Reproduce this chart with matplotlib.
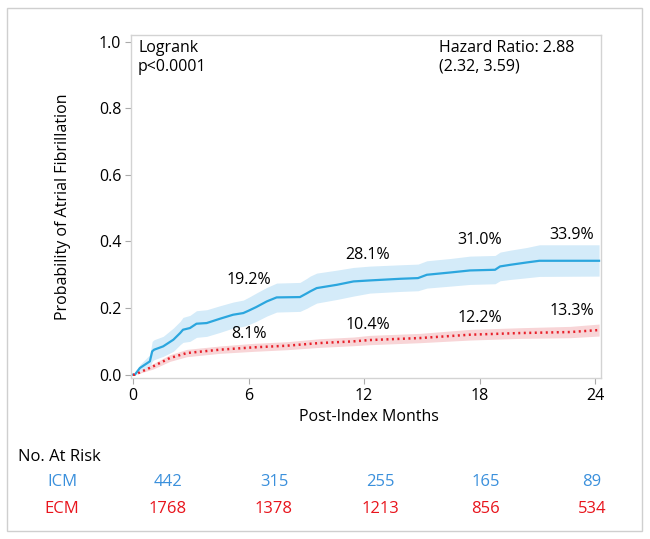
import matplotlib
matplotlib.use('Agg')
import matplotlib.pyplot as plt
from matplotlib.patches import Rectangle

plt.rcParams['font.family'] = ['Open Sans', 'DejaVu Sans']

# ICM curve
icm_t = [0, 0.1, 0.36, 0.62, 0.88, 1.0, 1.1, 1.57, 2.1, 2.45, 2.6, 2.96, 3.3, 3.83,
         4.52, 5.2, 5.73, 6.0, 6.4, 6.95, 7.46, 8.67, 9.05, 9.2, 9.54, 10.6, 11.45, 12.3,
         13.9, 14.8, 15.26, 16.5, 17.5, 18.8, 19.06, 19.6, 20.45, 21.1, 24.2]
icm_s = [0, 0, 0.02, 0.03, 0.04, 0.07, 0.075, 0.085, 0.105, 0.125, 0.135, 0.14, 0.153, 0.155,
         0.168, 0.18, 0.185, 0.192, 0.203, 0.22, 0.232, 0.233, 0.245, 0.25, 0.26, 0.27, 0.28, 0.283,
         0.288, 0.29, 0.30, 0.307, 0.313, 0.315, 0.325, 0.33, 0.337, 0.342, 0.342]
icm_lo = [0, 0, 0.01, 0.015, 0.02, 0.04, 0.045, 0.055, 0.07, 0.09, 0.097, 0.10, 0.112, 0.115,
          0.127, 0.14, 0.145, 0.15, 0.16, 0.176, 0.188, 0.19, 0.2, 0.205, 0.215, 0.226, 0.236, 0.245,
          0.25, 0.252, 0.26, 0.266, 0.271, 0.273, 0.282, 0.286, 0.291, 0.295, 0.296]
icm_hi = [0, 0, 0.03, 0.045, 0.06, 0.10, 0.105, 0.115, 0.14, 0.16, 0.172, 0.178, 0.192, 0.195,
          0.207, 0.218, 0.224, 0.232, 0.245, 0.262, 0.275, 0.277, 0.29, 0.296, 0.305, 0.314, 0.322, 0.326,
          0.33, 0.332, 0.342, 0.349, 0.356, 0.358, 0.368, 0.374, 0.382, 0.39, 0.39]

# ECM curve
ecm_t = [0, 0.1, 1.05, 1.92, 2.8, 3.65, 4.5, 6.25, 8.0, 9.7, 11.45, 12.3, 14.9, 17.5, 20.1, 22.7, 24.2]
ecm_s = [0, 0, 0.025, 0.05, 0.065, 0.07, 0.075, 0.082, 0.087, 0.095, 0.10, 0.104, 0.11, 0.12,
         0.125, 0.128, 0.134]
ecm_lo = [0, 0, 0.017, 0.04, 0.054, 0.059, 0.064, 0.07, 0.075, 0.082, 0.087, 0.09, 0.096, 0.104,
          0.109, 0.111, 0.116]
ecm_hi = [0, 0, 0.033, 0.06, 0.076, 0.081, 0.086, 0.094, 0.099, 0.108, 0.113, 0.118, 0.124, 0.136,
          0.141, 0.145, 0.152]

# percentage labels
lbl_x = [6.0, 12.2, 18.0, 22.8]
icm_lbl_y = [0.284, 0.36, 0.404, 0.42]
icm_lbl = ['19.2%', '28.1%', '31.0%', '33.9%']
ecm_lbl_y = [0.122, 0.149, 0.17, 0.19]
ecm_lbl = ['8.1%', '10.4%', '12.2%', '13.3%']

# numbers at risk
risk_icm = [442, 315, 255, 165, 89]
risk_ecm = [1768, 1378, 1213, 856, 534]

blue = '#2ba6de'
blue_band = '#d4ebf9'
red = '#e8202a'
red_band = '#f8d5d7'
frame = '#d3d3d3'
fs = 11.5

fig = plt.figure(figsize=(6.5, 5.39), dpi=100)
ax = fig.add_axes([131 / 650, 1 - 378 / 539, 470 / 650, 343 / 539])

ax.fill_between(icm_t, icm_lo, icm_hi, color=blue_band, lw=0)
ax.fill_between(ecm_t, ecm_lo, ecm_hi, color=red_band, lw=0)
ax.plot(icm_t, icm_s, color=blue, lw=1.6)
ax.plot(ecm_t, ecm_s, color=red, lw=1.8, linestyle=(0, (0.8, 1.4)))

for x, y, s in zip(lbl_x, icm_lbl_y, icm_lbl):
    ax.text(x, y, s, ha='center', va='center', fontsize=fs)
for x, y, s in zip(lbl_x, ecm_lbl_y, ecm_lbl):
    ax.text(x, y, s, ha='center', va='center', fontsize=fs)

ax.text(0.015, 0.985, 'Logrank\np<0.0001', transform=ax.transAxes, ha='left', va='top',
        fontsize=fs, linespacing=1.2)
ax.text(0.655, 0.985, 'Hazard Ratio: 2.88\n(2.32, 3.59)', transform=ax.transAxes, ha='left',
        va='top', fontsize=fs, linespacing=1.2)

ax.set_xlim(-0.1, 24.3)
ax.set_ylim(-0.01, 1.02)
ax.set_xticks([0, 6, 12, 18, 24])
ax.set_yticks([0.0, 0.2, 0.4, 0.6, 0.8, 1.0])
ax.set_yticklabels(['0.0', '0.2', '0.4', '0.6', '0.8', '1.0'])
ax.tick_params(labelsize=fs, color='#aaaaaa', length=4, width=0.8, pad=3)
for sp in ax.spines.values():
    sp.set_color(frame)
    sp.set_linewidth(1)

ax.set_xlabel('Post-Index Months', fontsize=fs)
ax.set_ylabel('Probability of Atrial Fibrillation', fontsize=fs)
ax.xaxis.set_label_coords(0.506, (378 - 417) / 343)
ax.xaxis.label.set_va('center')
ax.yaxis.set_label_coords((63 - 131) / 470, 0.5)
ax.yaxis.label.set_va('center')

# at-risk table
fig.text(18 / 650, 1 - 457 / 539, 'No. At Risk', ha='left', va='center', fontsize=12)
fig.text(62 / 650, 1 - 482 / 539, 'ICM', ha='center', va='center', fontsize=12, color='#3b90dc')
fig.text(62 / 650, 1 - 509 / 539, 'ECM', ha='center', va='center', fontsize=12, color='#e8141c')
for i, (a, b) in enumerate(zip(risk_icm, risk_ecm)):
    xp = (168 + 106 * i) / 650
    fig.text(xp, 1 - 482 / 539, str(a), ha='center', va='center', fontsize=12, color='#3b90dc')
    fig.text(xp, 1 - 509 / 539, str(b), ha='center', va='center', fontsize=12, color='#e8141c')

fig.patches.append(Rectangle((7 / 650, 1 - 531 / 539), 635 / 650, 523 / 539,
                             transform=fig.transFigure, fill=False, edgecolor='#cfcfcf', lw=1))

fig.savefig('out.png', dpi=100)
plt.close(fig)
